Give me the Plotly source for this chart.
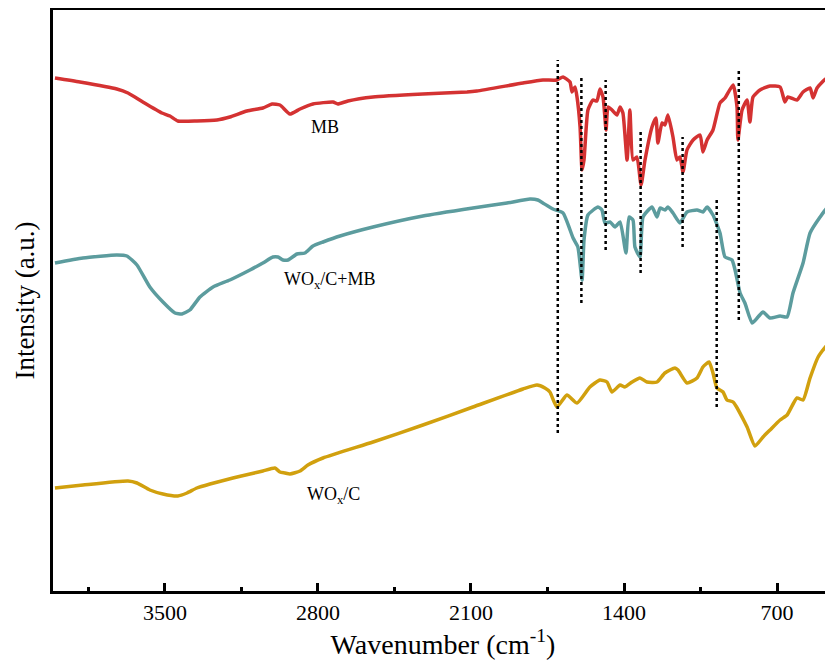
import plotly.graph_objects as go

# ---- data (wavenumber cm-1, intensity a.u.) ----
mb_wn = [4003, 3889, 3720, 3669, 3601, 3514, 3477, 3441, 3354, 3262, 3203, 3125, 3052, 3010, 2974, 2928,
         2882, 2823, 2731, 2709, 2663, 2548, 2320, 2118, 2073, 1862, 1771, 1707, 1679, 1647, 1638, 1624,
         1615, 1601, 1592, 1583, 1565, 1542, 1524, 1510, 1496, 1482, 1473, 1455, 1432, 1418, 1405, 1386,
         1373, 1359, 1341, 1322, 1304, 1272, 1254, 1245, 1226, 1213, 1199, 1176, 1158, 1144, 1130, 1112,
         1084, 1052, 1039, 1020, 993, 961, 938, 901, 883, 879, 860, 837, 824, 810, 778, 732, 686, 664,
         650, 609, 581, 549, 535, 517, 471, 448]
mb_int = [513, 509, 502, 498, 489, 478, 475, 470, 470, 471, 474, 480, 483, 487, 486, 477,
          482, 487, 489, 487, 490, 494, 497, 499, 500, 508, 511, 511, 514, 509, 499, 504,
          494, 464, 421, 431, 481, 491, 490, 502, 494, 461, 484, 481, 476, 484, 478, 431,
          481, 431, 434, 406, 431, 464, 473, 448, 468, 466, 476, 454, 431, 434, 419, 441,
          451, 456, 439, 451, 461, 488, 493, 506, 484, 451, 481, 491, 469, 494, 501, 505, 504, 489,
          494, 491, 499, 503, 493, 503, 513, 499]

wcmb_wn = [4003, 3875, 3720, 3674, 3628, 3569, 3509, 3454, 3422, 3386, 3340, 3280, 3203, 3111, 3052, 3006,
           2983, 2960, 2937, 2896, 2860, 2823, 2777, 2699, 2548, 2320, 2091, 1935, 1830, 1794, 1771, 1725,
           1679, 1633, 1611, 1592, 1583, 1565, 1519, 1501, 1487, 1464, 1441, 1418, 1391, 1377, 1359, 1350,
           1327, 1313, 1272, 1249, 1235, 1213, 1199, 1176, 1144, 1112, 1066, 1039, 1020, 993, 961, 938,
           906, 892, 869, 847, 814, 787, 764, 732, 686, 654, 627, 581, 549, 503, 467, 444]
wcmb_int = [328, 333, 336, 335, 326, 304, 289, 278, 277, 281, 294, 304, 311, 321, 328, 334,
            334, 331, 331, 337, 338, 345, 349, 355, 364, 375, 383, 388, 392, 391, 388, 382,
            378, 353, 344, 311, 351, 376, 384, 381, 368, 369, 364, 369, 338, 374, 371, 344,
            334, 374, 384, 374, 383, 381, 384, 378, 368, 379, 381, 379, 384, 376, 358, 334,
            331, 321, 298, 288, 268, 274, 279, 273, 275, 274, 298, 328, 358, 374, 384, 384]

wc_wn = [4003, 3875, 3669, 3628, 3569, 3509, 3441, 3399, 3354, 3294, 3189, 3111, 3052, 2997, 2974, 2951,
         2928, 2882, 2846, 2777, 2548, 2320, 2091, 1862, 1798, 1762, 1739, 1707, 1661, 1615, 1556, 1510,
         1478, 1455, 1418, 1396, 1363, 1327, 1295, 1249, 1213, 1167, 1153, 1112, 1066, 1039, 1011, 993,
         975, 947, 929, 901, 837, 801, 764, 732, 686, 654, 609, 581, 549, 512, 471, 444]
wc_int = [103, 106, 110, 108, 101, 97, 95, 98, 103, 107, 113, 117, 120, 123, 119, 118,
          117, 120, 126, 133, 149, 166, 184, 202, 206, 203, 199, 184, 196, 188, 204, 211,
          209, 199, 206, 204, 209, 213, 209, 209, 218, 223, 221, 208, 213, 224, 229, 218,
          203, 199, 191, 189, 164, 145, 154, 161, 171, 176, 193, 191, 213, 234, 246, 249]

# marker lines (wavenumber, low, high)
mark_wn = [1703, 1595, 1484, 1324, 1132, 976, 875]
mark_lo = [158, 288, 341, 318, 344, 184, 271]
mark_hi = [531, 513, 511, 460, 454, 391, 521]

tick_vals = [3500, 2800, 2100, 1400, 700]
tick_text = ["3500", "2800", "2100", "1400", "700"]
minor_vals = [3850, 3150, 2450, 1750, 1050]

labels = ["MB", "WO<sub>x</sub>/C+MB", "WO<sub>x</sub>/C"]
label_x = [2768, 2745, 2731]
label_y = [464, 311, 96]

FONT = "Liberation Serif, 'Times New Roman', Times, 'DejaVu Serif', serif"

fig = go.Figure()
for wn, it, col, nm in [(mb_wn, mb_int, "#d43232", "MB"),
                        (wcmb_wn, wcmb_int, "#5c9c9e", "WOx/C+MB"),
                        (wc_wn, wc_int, "#d1a00e", "WOx/C")]:
    fig.add_trace(go.Scatter(x=wn, y=it, mode="lines", name=nm,
                             line=dict(color=col, width=3.5, shape="spline", smoothing=0.5),
                             showlegend=False))

for w, lo, hi in zip(mark_wn, mark_lo, mark_hi):
    fig.add_trace(go.Scatter(x=[w, w], y=[lo, hi], mode="lines", showlegend=False,
                             line=dict(color="black", width=2.5, dash="dot"), hoverinfo="skip"))

for t, x, y in zip(labels, label_x, label_y):
    fig.add_annotation(x=x, y=y, text=t, showarrow=False, xref="x", yref="y",
                       font=dict(family=FONT, size=18, color="black"))

fig.update_layout(
    width=825, height=656,
    margin=dict(l=45, r=0, t=2, b=73),
    paper_bgcolor="white", plot_bgcolor="white",
    font=dict(family=FONT, color="black"),
)
fig.update_xaxes(range=[4012, 444], showgrid=False, zeroline=False,
                 showline=True, linecolor="black", linewidth=3, mirror=True,
                 tickmode="array", tickvals=tick_vals, ticktext=tick_text,
                 ticks="inside", ticklen=8, tickwidth=2.5, tickcolor="black",
                 minor=dict(tickmode="array", tickvals=minor_vals,
                            ticks="inside", ticklen=4, tickwidth=2.5, tickcolor="black"),
                 tickfont=dict(family=FONT, size=22),
                 title=dict(text="Wavenumber (cm<sup>-1</sup>)", font=dict(family=FONT, size=28), standoff=2))
fig.update_yaxes(range=[0, 581], showgrid=False, zeroline=False,
                 showline=True, linecolor="black", linewidth=3, mirror=False,
                 showticklabels=False, ticks="",
                 title=dict(text="Intensity (a.u.)", font=dict(family=FONT, size=27), standoff=8))

fig.write_html("out.html")
